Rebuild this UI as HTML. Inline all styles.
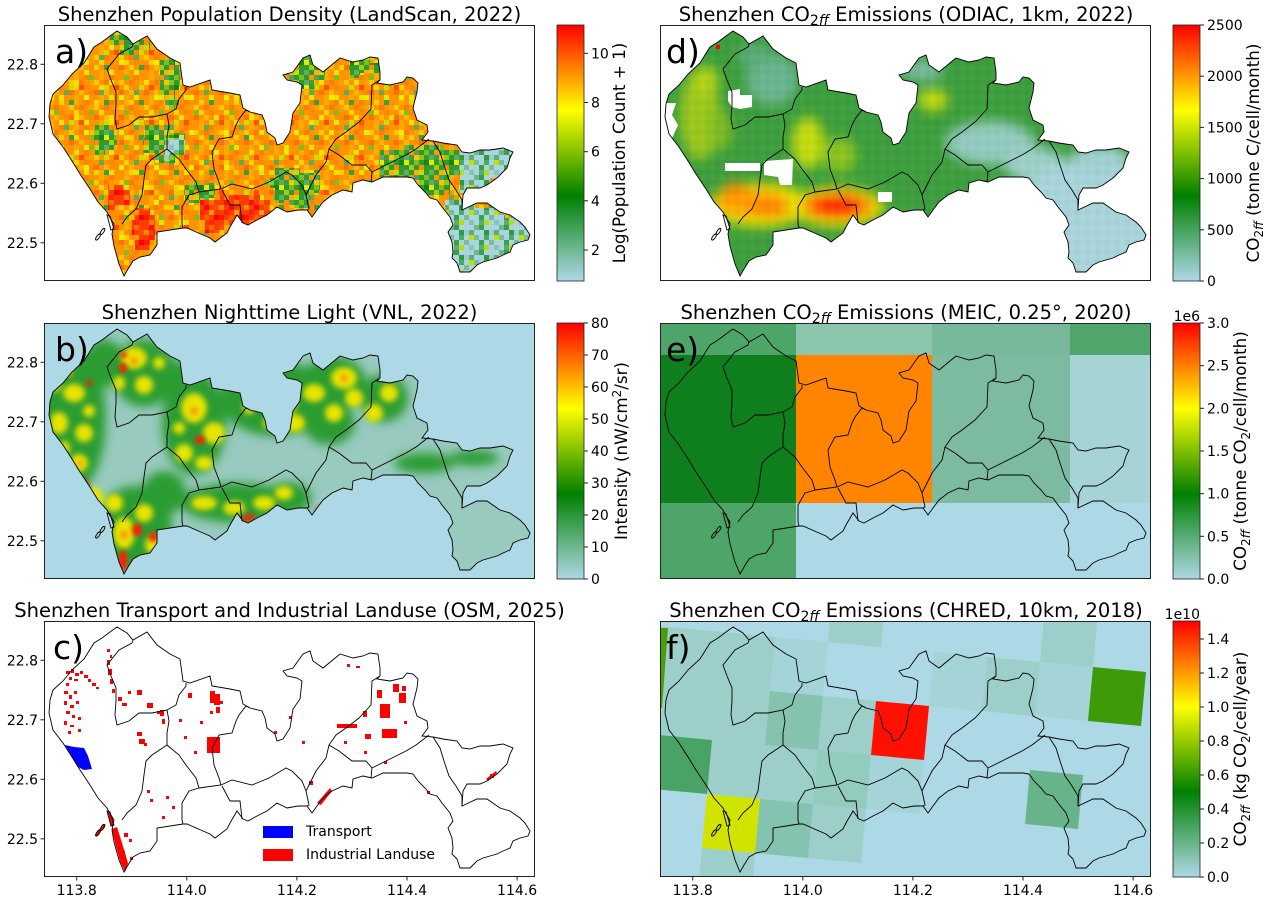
<!DOCTYPE html>
<html><head><meta charset="utf-8"><style>html,body{margin:0;padding:0;background:#fff;}svg{display:block;}</style></head><body>
<svg xmlns="http://www.w3.org/2000/svg" width="1269" height="903" viewBox="0 0 1269 903" font-family="DejaVu Sans, Liberation Sans, sans-serif">
<defs>
<path id="sz" d="M73,6 L83,12 L89,19 L103,11 L113,24 L126,33 L136,38 L139,60 L146,62 L166,55 L168,65 L186,68 L196,70 L199,83 L206,87 L218,90 L221,97 L223,107 L231,113 L233,120 L239,118 L246,107 L249,88 L256,78 L258,60 L253,57 L243,55 L239,50 L249,47 L259,33 L266,30 L269,40 L279,47 L296,33 L309,37 L319,35 L326,32 L334,33 L336,47 L336,55 L333,58 L346,60 L359,57 L363,52 L369,53 L374,58 L373,67 L369,83 L373,95 L383,100 L384,107 L378,115 L389,116 L399,118 L413,120 L418,127 L426,128 L436,125 L446,125 L459,123 L469,127 L466,133 L463,143 L453,153 L443,160 L436,163 L423,163 L419,170 L418,185 L433,178 L443,178 L456,187 L466,190 L476,197 L481,202 L486,210 L484,215 L476,217 L469,220 L466,227 L459,230 L453,233 L439,237 L433,240 L426,247 L416,247 L413,238 L408,233 L409,227 L408,217 L404,207 L409,200 L406,192 L398,182 L393,175 L386,173 L381,167 L374,160 L369,153 L363,152 L354,152 L339,152 L328,157 L319,155 L309,158 L308,167 L299,165 L288,170 L279,177 L273,185 L268,192 L263,185 L254,185 L243,187 L233,182 L223,190 L213,195 L204,200 L199,198 L193,190 L186,202 L183,208 L171,217 L166,213 L159,210 L143,203 L139,203 L113,207 L113,220 L106,230 L96,232 L89,236 L84,244 L80,251 L75,239 L70,221 L68,209 L70,199 L65,191 L63,187 L54,177 L46,164 L36,149 L28,136 L19,122 L9,109 L5,92 L6,79 L9,69 L19,60 L28,49 L40,38 L50,22 L58,17 L66,11 Z"/>
<path id="ib" d="M89,19 L88,22 L75,29 L63,44 L67,55 L72,67 L72,80 L71,94 L73,104 L85,100 L95,92 L108,92 L123,89 L132,84 L135,74 L142,65 L142,62 M123,89 L125,100 L123,112 L123,124 L108,134 L102,140 L100,154 L98,170 L92,184 L83,192 L78,199 M123,124 L135,134 L142,144 L152,157 L155,167 L145,170 L138,182 L138,199 L139,203 M155,167 L177,164 L188,159 L208,164 L225,157 L242,147 L248,150 L258,160 L262,170 L265,184 L263,185 M178,165 L186,180 L196,180 L198,198 M170,144 L168,127 L175,114 L188,112 L192,100 L195,94 L202,85 L206,87 M170,144 L175,157 L177,164 M336,55 L328,60 L327,84 L315,97 L302,107 L292,114 L285,124 L282,137 L272,150 L262,170 M285,124 L295,130 L308,140 L322,140 L328,147 L342,140 L362,130 L372,124 L385,114 M328,147 L327,157 M389,116 L396,127 L400,140 L405,155 L412,165 L418,175 L418,185"/>
<g id="isl"><ellipse cx="54" cy="212" rx="3.6" ry="1.4" transform="rotate(-55 54 212)"/><ellipse cx="58.5" cy="206.5" rx="3.6" ry="1.4" transform="rotate(-55 58.5 206.5)"/><polygon points="63,190 66,191 70,204 67,205"/></g>
<clipPath id="csz"><use href="#sz"/></clipPath>
<linearGradient id="cm" x1="0" y1="1" x2="0" y2="0">
<stop offset="0" stop-color="#add8e6"/><stop offset="0.3333" stop-color="#008000"/><stop offset="0.6667" stop-color="#ffff00"/><stop offset="1" stop-color="#ff0000"/>
</linearGradient>
<filter id="bl6" x="-30%" y="-30%" width="160%" height="160%"><feGaussianBlur stdDeviation="6"/></filter>
<filter id="bl5" x="-30%" y="-30%" width="160%" height="160%"><feGaussianBlur stdDeviation="5"/></filter>
<filter id="bl3" x="-30%" y="-30%" width="160%" height="160%"><feGaussianBlur stdDeviation="3"/></filter>
<filter id="bl2" x="-30%" y="-30%" width="160%" height="160%"><feGaussianBlur stdDeviation="2"/></filter>
<pattern id="pO" width="25" height="25" patternUnits="userSpaceOnUse">
<rect width="25" height="25" fill="#ff9400"/>
<rect x="5" y="0" width="5" height="5" fill="#ffac00"/><rect x="15" y="0" width="5" height="5" fill="#ff8000"/>
<rect x="0" y="5" width="5" height="5" fill="#ffc800"/><rect x="10" y="5" width="5" height="5" fill="#ff7c00"/><rect x="20" y="5" width="5" height="5" fill="#ffa000"/>
<rect x="5" y="10" width="5" height="5" fill="#ffd400"/><rect x="15" y="10" width="5" height="5" fill="#ff8800"/>
<rect x="0" y="15" width="5" height="5" fill="#ff7000"/><rect x="10" y="15" width="5" height="5" fill="#ffb800"/><rect x="20" y="15" width="5" height="5" fill="#ff8c00"/>
<rect x="5" y="20" width="5" height="5" fill="#ffa800"/><rect x="15" y="20" width="5" height="5" fill="#e8e600"/>
</pattern>
<pattern id="pS" width="35" height="35" patternUnits="userSpaceOnUse">
<rect x="5" y="0" width="5" height="5" fill="#f0ee00"/><rect x="25" y="5" width="5" height="5" fill="#3aa03a"/><rect x="10" y="15" width="5" height="5" fill="#7cc020"/><rect x="30" y="20" width="5" height="5" fill="#ffe000"/><rect x="0" y="25" width="5" height="5" fill="#ff5000"/><rect x="20" y="30" width="5" height="5" fill="#58ae50"/><rect x="15" y="5" width="5" height="5" fill="#ffd000"/><rect x="25" y="25" width="5" height="5" fill="#c8e000"/>
</pattern>
<pattern id="pG" width="25" height="25" patternUnits="userSpaceOnUse">
<rect width="25" height="25" fill="#2f9a2f"/>
<rect x="5" y="0" width="5" height="5" fill="#7cc01c"/><rect x="15" y="0" width="5" height="5" fill="#ff9800"/><rect x="20" y="0" width="5" height="5" fill="#4ca35a"/>
<rect x="0" y="5" width="5" height="5" fill="#90c818"/><rect x="10" y="5" width="5" height="5" fill="#5aac6c"/><rect x="15" y="5" width="5" height="5" fill="#3c9e3c"/><rect x="20" y="5" width="5" height="5" fill="#ffc400"/>
<rect x="5" y="10" width="5" height="5" fill="#0e880e"/><rect x="10" y="10" width="5" height="5" fill="#e8e800"/><rect x="20" y="10" width="5" height="5" fill="#7cc01c"/>
<rect x="0" y="15" width="5" height="5" fill="#ff8c00"/><rect x="15" y="15" width="5" height="5" fill="#a4cc14"/>
<rect x="0" y="20" width="5" height="5" fill="#c0dc0c"/><rect x="10" y="20" width="5" height="5" fill="#60b060"/><rect x="20" y="20" width="5" height="5" fill="#ffb000"/>
</pattern>
<pattern id="pB" width="25" height="25" patternUnits="userSpaceOnUse">
<rect width="25" height="25" fill="#a8d5df"/>
<rect x="5" y="0" width="5" height="5" fill="#6cb690"/><rect x="10" y="0" width="5" height="5" fill="#3c9e48"/>
<rect x="0" y="5" width="5" height="5" fill="#5aae7a"/><rect x="15" y="5" width="5" height="5" fill="#2e9a3a"/><rect x="20" y="5" width="5" height="5" fill="#9acccc"/>
<rect x="0" y="10" width="5" height="5" fill="#c0e000"/><rect x="5" y="10" width="5" height="5" fill="#7cbc9c"/><rect x="15" y="10" width="5" height="5" fill="#4ea868"/>
<rect x="10" y="15" width="5" height="5" fill="#3ca048"/><rect x="20" y="15" width="5" height="5" fill="#7abc98"/>
<rect x="0" y="20" width="5" height="5" fill="#88c4b0"/><rect x="10" y="20" width="5" height="5" fill="#58ae70"/><rect x="15" y="20" width="5" height="5" fill="#b8dc10"/>
</pattern>
<pattern id="pR" width="25" height="25" patternUnits="userSpaceOnUse">
<rect width="25" height="25" fill="#ff3c00"/>
<rect x="5" y="0" width="5" height="5" fill="#ff1000"/><rect x="15" y="0" width="5" height="5" fill="#ff7000"/>
<rect x="0" y="5" width="5" height="5" fill="#ff8c00"/><rect x="10" y="5" width="5" height="5" fill="#ff0800"/><rect x="20" y="5" width="5" height="5" fill="#ff5000"/>
<rect x="5" y="10" width="5" height="5" fill="#ff2000"/><rect x="15" y="10" width="5" height="5" fill="#ffa000"/>
<rect x="0" y="15" width="5" height="5" fill="#ff1800"/><rect x="10" y="15" width="5" height="5" fill="#ff6000"/><rect x="20" y="15" width="5" height="5" fill="#ff0000"/>
<rect x="5" y="20" width="5" height="5" fill="#ff8000"/><rect x="15" y="20" width="5" height="5" fill="#ff2800"/>
</pattern>
<pattern id="pX" width="10" height="10" patternUnits="userSpaceOnUse">
<rect x="0" y="0" width="5" height="5" fill="#fff" fill-opacity="0.035"/><rect x="5" y="5" width="5" height="5" fill="#000" fill-opacity="0.025"/>
</pattern>
</defs>
<rect width="1269" height="903" fill="#fff"/>

<!-- ===== Panel a ===== -->
<g transform="translate(44,25)">
<g clip-path="url(#csz)">
<rect width="491" height="256" fill="url(#pO)"/>
<rect width="491" height="256" fill="url(#pS)"/>
<g fill="url(#pG)">
<polygon points="66,5 81,5 81,10 96,10 96,15 106,15 106,25 91,25 91,30 76,30 76,20 66,20"/>
<polygon points="116,35 131,35 131,45 136,45 136,65 131,65 131,85 121,85 121,70 116,70"/>
<polygon points="51,100 66,100 66,105 73,105 73,125 61,125 61,130 51,130 51,115 46,115 46,105 51,105"/>
<polygon points="101,100 126,100 126,108 141,108 141,130 131,130 131,138 111,138 111,128 99,128 99,113 101,113"/>
<polygon points="141,160 161,160 161,158 171,158 171,173 156,173 156,178 141,178"/>
<polygon points="231,143 256,143 256,148 276,148 276,168 266,168 266,183 246,183 246,178 231,178 231,163 226,163 226,153 231,153"/>
<polygon points="246,30 266,30 266,35 281,35 281,55 271,55 271,64 251,64 251,55 238,55 238,40 246,40"/>
<polygon points="306,32 326,32 326,38 336,38 336,48 316,48 316,53 306,53"/>
<polygon points="336,125 361,125 361,120 396,120 396,125 416,125 416,150 406,150 406,170 381,170 381,178 356,178 356,165 336,165"/>
</g>
<g fill="url(#pB)">
<polygon points="416,118 471,118 471,133 466,133 466,153 446,153 446,163 421,163 421,168 416,168"/>
<polygon points="401,175 431,175 431,183 461,183 461,193 491,193 491,256 401,256"/>
<polygon points="121,113 141,113 141,128 126,128 126,136 121,136"/>
</g>
<g fill="url(#pR)">
<polygon points="156,175 176,175 176,170 216,170 216,175 226,175 226,195 216,195 216,205 196,205 196,200 176,200 176,208 161,208 161,195 156,195"/>
<polygon points="91,183 106,183 106,190 111,190 111,215 106,215 106,225 91,225 91,210 88,210 88,195 91,195"/>
<polygon points="64,160 79,160 79,165 86,165 86,180 71,180 71,185 64,185"/>
</g>
</g>
<g fill="none" stroke="#000" stroke-width="0.9"><use href="#sz"/><use href="#ib"/><use href="#isl"/></g>
<rect x="0.5" y="0.5" width="490" height="255" fill="none" stroke="#222" stroke-width="1"/>
<text x="11" y="38" font-size="33">a)</text>
</g>

<!-- ===== Panel b ===== -->
<g transform="translate(44,323)">
<rect width="491" height="256" fill="#add8e6"/>
<g clip-path="url(#csz)">
<rect width="491" height="256" fill="#98cabf"/>
<g filter="url(#bl5)" fill="#2c9c32">
<ellipse cx="28" cy="95" rx="34" ry="75"/><ellipse cx="60" cy="40" rx="20" ry="24"/><ellipse cx="100" cy="50" rx="32" ry="34"/>
<ellipse cx="150" cy="100" rx="32" ry="52"/><ellipse cx="135" cy="60" rx="16" ry="22"/><ellipse cx="230" cy="75" rx="54" ry="38"/>
<ellipse cx="290" cy="60" rx="32" ry="27"/><ellipse cx="285" cy="100" rx="26" ry="22"/><ellipse cx="340" cy="75" rx="24" ry="24"/>
<ellipse cx="90" cy="205" rx="38" ry="42"/><ellipse cx="195" cy="180" rx="58" ry="20"/><ellipse cx="245" cy="175" rx="22" ry="16"/>
<ellipse cx="120" cy="170" rx="22" ry="22"/><ellipse cx="380" cy="140" rx="30" ry="10"/><ellipse cx="430" cy="135" rx="25" ry="8"/>
</g>
<g filter="url(#bl3)" fill="#e8e400">
<ellipse cx="20" cy="40" rx="9" ry="11"/><ellipse cx="30" cy="70" rx="11" ry="9"/><ellipse cx="15" cy="100" rx="9" ry="11"/><ellipse cx="40" cy="110" rx="9" ry="9"/><ellipse cx="35" cy="140" rx="9" ry="9"/><ellipse cx="50" cy="175" rx="9" ry="11"/><ellipse cx="10" cy="60" rx="7" ry="9"/><ellipse cx="45" cy="88" rx="6" ry="6"/><ellipse cx="20" cy="125" rx="6" ry="7"/>
<ellipse cx="90" cy="35" rx="13" ry="11"/><ellipse cx="100" cy="62" rx="9" ry="9"/><ellipse cx="75" cy="60" rx="6" ry="7"/><ellipse cx="115" cy="40" rx="6" ry="6"/>
<ellipse cx="150" cy="85" rx="13" ry="15"/><ellipse cx="170" cy="110" rx="11" ry="11"/><ellipse cx="140" cy="130" rx="9" ry="9"/><ellipse cx="160" cy="140" rx="9" ry="7"/><ellipse cx="135" cy="105" rx="6" ry="6"/>
<ellipse cx="210" cy="60" rx="11" ry="11"/><ellipse cx="240" cy="80" rx="13" ry="11"/><ellipse cx="270" cy="70" rx="11" ry="9"/><ellipse cx="250" cy="100" rx="11" ry="9"/><ellipse cx="300" cy="55" rx="13" ry="11"/><ellipse cx="290" cy="90" rx="9" ry="9"/><ellipse cx="225" cy="100" rx="6" ry="6"/><ellipse cx="205" cy="85" rx="6" ry="6"/>
<ellipse cx="80" cy="210" rx="11" ry="16"/><ellipse cx="100" cy="190" rx="9" ry="9"/><ellipse cx="70" cy="180" rx="9" ry="9"/><ellipse cx="110" cy="222" rx="9" ry="9"/>
<ellipse cx="160" cy="180" rx="13" ry="7"/><ellipse cx="190" cy="185" rx="11" ry="7"/><ellipse cx="220" cy="180" rx="11" ry="7"/><ellipse cx="240" cy="170" rx="9" ry="7"/>
<ellipse cx="310" cy="75" rx="9" ry="9"/><ellipse cx="330" cy="90" rx="9" ry="9"/><ellipse cx="345" cy="70" rx="9" ry="9"/>
</g>
<g filter="url(#bl2)" fill="#ff9c00">
<ellipse cx="25" cy="50" rx="4" ry="4"/><ellipse cx="90" cy="38" rx="4" ry="4"/><ellipse cx="150" cy="88" rx="4" ry="4"/><ellipse cx="240" cy="80" rx="4" ry="4"/><ellipse cx="300" cy="55" rx="4" ry="4"/><ellipse cx="80" cy="212" rx="4" ry="5"/><ellipse cx="36" cy="140" rx="3" ry="3"/>
</g>
<g filter="url(#bl2)" fill="#ff1a00">
<ellipse cx="33" cy="164" rx="12" ry="10"/><ellipse cx="28" cy="158" rx="10" ry="8"/>
<ellipse cx="79" cy="45" rx="4" ry="5"/><ellipse cx="156" cy="117" rx="5" ry="4"/><ellipse cx="63" cy="197" rx="4" ry="6"/><ellipse cx="93" cy="207" rx="5" ry="6"/><ellipse cx="109" cy="214" rx="4" ry="5"/><ellipse cx="79" cy="238" rx="4" ry="11"/><ellipse cx="206" cy="194" rx="5" ry="3"/><ellipse cx="276" cy="187" rx="4" ry="3"/><ellipse cx="201" cy="197" rx="4" ry="3"/><ellipse cx="80" cy="32" rx="3" ry="3"/><ellipse cx="45" cy="60" rx="3" ry="3"/>
</g>
</g>
<g fill="none" stroke="#000" stroke-width="0.9"><use href="#sz"/><use href="#ib"/><use href="#isl"/></g>
<rect x="0.5" y="0.5" width="490" height="255" fill="none" stroke="#222" stroke-width="1"/>
<text x="11" y="38" font-size="33">b)</text>
</g>

<!-- ===== Panel c ===== -->
<g transform="translate(44,621)">
<rect width="491" height="256" fill="#fff"/>
<g fill="#ff0000">
<rect x="22" y="50" width="4" height="3"/><rect x="27" y="48" width="3" height="4"/><rect x="31" y="52" width="4" height="3"/><rect x="36" y="50" width="3" height="3"/><rect x="40" y="54" width="4" height="3"/><rect x="25" y="56" width="3" height="3"/><rect x="30" y="58" width="4" height="2"/><rect x="44" y="58" width="3" height="3"/><rect x="48" y="62" width="4" height="3"/><rect x="52" y="66" width="3" height="2"/><rect x="22" y="62" width="3" height="3"/>
<rect x="20" y="70" width="4" height="3"/><rect x="25" y="74" width="3" height="4"/><rect x="30" y="70" width="3" height="3"/><rect x="20" y="80" width="3" height="4"/><rect x="26" y="84" width="4" height="3"/><rect x="32" y="80" width="3" height="3"/><rect x="22" y="90" width="4" height="3"/><rect x="28" y="94" width="3" height="3"/><rect x="20" y="100" width="3" height="4"/><rect x="26" y="104" width="4" height="2"/><rect x="34" y="96" width="3" height="3"/><rect x="24" y="110" width="3" height="3"/><rect x="34" y="108" width="3" height="3"/>
<rect x="63" y="39" width="3" height="5"/><rect x="64" y="48" width="4" height="6"/><rect x="66" y="58" width="3" height="5"/><rect x="68" y="68" width="3" height="4"/><rect x="63" y="28" width="3" height="3"/><rect x="66" y="34" width="2" height="3"/>
<rect x="93" y="111" width="5" height="4"/><rect x="95" y="118" width="6" height="5"/><rect x="100" y="122" width="3" height="3"/><rect x="103" y="82" width="6" height="5"/><rect x="93" y="69" width="5" height="5"/><rect x="74" y="76" width="4" height="4"/><rect x="78" y="82" width="5" height="3"/><rect x="84" y="70" width="3" height="3"/>
<rect x="163" y="116" width="13" height="16"/><rect x="166" y="70" width="5" height="6"/><rect x="170" y="76" width="6" height="8"/><rect x="172" y="86" width="4" height="6"/><rect x="166" y="90" width="3" height="3"/><rect x="176" y="80" width="3" height="3"/>
<rect x="144" y="72" width="4" height="5"/><rect x="116" y="89" width="4" height="6"/><rect x="118" y="98" width="3" height="5"/><rect x="113" y="90" width="3" height="3"/>
<rect x="135" y="98" width="3" height="3"/><rect x="140" y="115" width="3" height="3"/><rect x="150" y="130" width="3" height="3"/><rect x="156" y="100" width="3" height="3"/>
<polygon points="68,208 73,206 78,222 84,242 81,251 76,240 71,222"/>
<rect x="80" y="212" width="4" height="4"/><rect x="85" y="218" width="3" height="3"/><rect x="78" y="230" width="3" height="3"/><rect x="86" y="236" width="3" height="3"/>
<use href="#isl"/>
<rect x="103" y="169" width="3" height="3"/><rect x="106" y="178" width="3" height="3"/><rect x="122" y="175" width="3" height="3"/><rect x="128" y="185" width="3" height="3"/><rect x="118" y="195" width="3" height="3"/>
<rect x="336" y="83" width="10" height="14"/><rect x="338" y="108" width="15" height="9"/><rect x="349" y="63" width="6" height="8"/><rect x="355" y="72" width="7" height="10"/><rect x="358" y="65" width="4" height="5"/>
<rect x="293" y="103" width="20" height="4"/><polygon points="273,182 286,167 288,170 277,184"/>
<rect x="446" y="153" width="4" height="4"/><polygon points="442,158 452,150 453,152 444,160"/><rect x="383" y="170" width="3" height="3"/><rect x="303" y="43" width="3" height="3"/><rect x="312" y="45" width="4" height="2"/><rect x="319" y="90" width="4" height="6"/><rect x="321" y="113" width="6" height="5"/><rect x="166" y="73" width="10" height="9"/>
<rect x="230" y="110" width="3" height="3"/><rect x="245" y="95" width="3" height="3"/><rect x="258" y="120" width="3" height="3"/><rect x="300" y="120" width="3" height="3"/><rect x="320" y="130" width="3" height="3"/><rect x="360" y="100" width="3" height="3"/><rect x="333" y="69" width="5" height="8"/><rect x="340" y="140" width="3" height="3"/><rect x="265" y="160" width="4" height="4"/>
</g>
<polygon points="21,124 30,126 40,127 44,135 48,148 40,149 34,146 28,136" fill="#0000ff"/>
<g fill="none" stroke="#000" stroke-width="0.9"><use href="#sz"/><use href="#ib"/><use href="#isl"/></g>
<rect x="219" y="205" width="30" height="12" fill="#0000ff"/>
<rect x="219" y="228" width="30" height="12" fill="#ff0000"/>
<text x="262" y="215" font-size="14">Transport</text>
<text x="262" y="238" font-size="14">Industrial Landuse</text>
<rect x="0.5" y="0.5" width="490" height="255" fill="none" stroke="#222" stroke-width="1"/>
<text x="9" y="38" font-size="33">c)</text>
</g>

<!-- ===== Panel d ===== -->
<g transform="translate(660,25)">
<rect width="491" height="256" fill="#fff"/>
<g clip-path="url(#csz)">
<rect width="491" height="256" fill="#3c9e3c"/>
<g filter="url(#bl6)">
<ellipse cx="112" cy="55" rx="26" ry="26" fill="#6ab48e"/>
<ellipse cx="95" cy="30" rx="18" ry="12" fill="#5aac7a"/>
<ellipse cx="40" cy="90" rx="20" ry="45" fill="#9cc81a"/>
<ellipse cx="45" cy="55" rx="14" ry="14" fill="#b4d412"/>
<ellipse cx="60" cy="105" rx="12" ry="20" fill="#7cbc20"/>
<ellipse cx="148" cy="118" rx="16" ry="26" fill="#c4dc10"/>
<ellipse cx="180" cy="130" rx="16" ry="18" fill="#8cc41a"/>
<ellipse cx="273" cy="75" rx="15" ry="11" fill="#c4dc10"/>
<ellipse cx="262" cy="45" rx="22" ry="10" fill="#7cbca4"/>
<ellipse cx="330" cy="118" rx="45" ry="22" fill="#92cabe"/>
<ellipse cx="375" cy="140" rx="30" ry="18" fill="#9ccfc8"/>
<ellipse cx="430" cy="195" rx="75" ry="62" fill="#a8d4da"/>
<ellipse cx="440" cy="135" rx="30" ry="15" fill="#a0d0d0"/>
<ellipse cx="100" cy="180" rx="50" ry="22" fill="#e8e400"/>
<ellipse cx="92" cy="178" rx="36" ry="14" fill="#ffa000"/>
<ellipse cx="75" cy="166" rx="14" ry="8" fill="#ff9000"/>
<ellipse cx="110" cy="184" rx="20" ry="8" fill="#ff7800"/>
<ellipse cx="178" cy="182" rx="46" ry="20" fill="#e8e400"/>
<ellipse cx="178" cy="181" rx="36" ry="14" fill="#ff8800"/>
<ellipse cx="176" cy="181" rx="26" ry="10" fill="#ff1000"/>
</g>
<rect width="491" height="256" fill="url(#pX)"/>
<g fill="#fff">
<polygon points="68,66 80,64 80,70 92,70 92,82 80,84 72,82 68,76"/>
<polygon points="65,138 100,138 100,146 65,146"/>
<polygon points="104,136 133,134 132,160 120,160 118,152 104,150"/>
<polygon points="0,78 16,78 12,90 18,100 10,118 0,118"/>
<rect x="218" y="167" width="14" height="10"/>
</g>
<rect x="56" y="20" width="4" height="4" fill="#ff0000"/>
<rect x="69" y="229" width="4" height="4" fill="#ff0000"/>
</g>
<g fill="none" stroke="#000" stroke-width="0.9"><use href="#sz"/><use href="#ib"/><use href="#isl"/></g>
<rect x="0.5" y="0.5" width="490" height="255" fill="none" stroke="#222" stroke-width="1"/>
<text x="6" y="38" font-size="33">d)</text>
</g>

<!-- ===== Panel e ===== -->
<g transform="translate(660,323)">
<rect x="0" y="0" width="136" height="32" fill="#4ea56a"/>
<rect x="136" y="0" width="136" height="32" fill="#8cc6ad"/>
<rect x="272" y="0" width="138" height="32" fill="#78b99b"/>
<rect x="410" y="0" width="81" height="32" fill="#4fa56b"/>
<rect x="0" y="32" width="136" height="148" fill="#0e7f1c"/>
<rect x="136" y="32" width="136" height="148" fill="#ff8400"/>
<rect x="272" y="32" width="138" height="148" fill="#7cbba0"/>
<rect x="410" y="32" width="81" height="148" fill="#a6d3d6"/>
<rect x="0" y="180" width="136" height="76" fill="#4ea56a"/>
<rect x="136" y="180" width="355" height="76" fill="#add8e6"/>
<g fill="none" stroke="#000" stroke-width="0.9"><use href="#sz"/><use href="#ib"/><use href="#isl"/></g>
<rect x="0.5" y="0.5" width="490" height="255" fill="none" stroke="#222" stroke-width="1"/>
<text x="6" y="38" font-size="33">e)</text>
</g>

<!-- ===== Panel f ===== -->
<g transform="translate(660,621)">
<svg x="0" y="0" width="491" height="256" overflow="hidden">
<rect width="491" height="256" fill="#add8e6"/>
<g fill="#9ccfc9">
<polygon points="163,75 216,80 211,134 158,129"/>
<polygon points="57,65 110,70 105,124 52,119"/>
<polygon points="4,60 57,65 52,119 -1,114"/>
<polygon points="52,119 105,124 100,178 47,173"/>
<polygon points="105,124 158,129 153,183 100,178"/>
<polygon points="153,183 206,188 201,242 148,237"/>
<polygon points="42,227 95,232 90,286 37,281"/>
<polygon points="9,6 62,11 57,65 4,60"/>
<polygon points="62,11 115,16 110,70 57,65"/>
<polygon points="173,-33 226,-28 221,26 168,21"/>
<polygon points="327,36 380,41 375,95 322,90"/>
<polygon points="385,-13 438,-8 433,46 380,41"/>
<polygon points="-44,1 9,6 4,60 -49,55"/>
</g>
<g fill="#a4d4d8">
<polygon points="211,134 264,139 259,193 206,188"/>
<polygon points="115,16 168,21 163,75 110,70"/>
<polygon points="274,31 327,36 322,90 269,85"/>
<polygon points="380,41 433,46 428,100 375,95"/>
</g>
<polygon points="158,129 211,134 206,188 153,183" fill="#93cbbe"/>
<polygon points="110,70 163,75 158,129 105,124" fill="#86c3af"/>
<polygon points="100,178 153,183 148,237 95,232" fill="#84c3b0"/>
<polygon points="216,80 269,85 264,139 211,134" fill="#ff1000"/>
<polygon points="47,173 100,178 95,232 42,227" fill="#d0e400"/>
<polygon points="433,46 486,51 481,105 428,100" fill="#3f9a0a"/>
<polygon points="370,149 423,154 418,208 365,203" fill="#68b48a"/>
<polygon points="-1,114 52,119 47,173 -6,168" fill="#4aa366"/>
<polygon points="0,7 8,7 2,87 0,87" fill="#4a9e0a"/>
<g fill="none" stroke="#000" stroke-width="0.9"><use href="#sz"/><use href="#ib"/><use href="#isl"/></g>
</svg>
<rect x="0.5" y="0.5" width="490" height="255" fill="none" stroke="#222" stroke-width="1"/>
<text x="6" y="38" font-size="33">f)</text>
</g>

<!-- ===== Titles ===== -->
<g font-size="19.5" text-anchor="middle" fill="#000">
<text x="289.5" y="21">Shenzhen Population Density (LandScan, 2022)</text>
<text x="289.5" y="319">Shenzhen Nighttime Light (VNL, 2022)</text>
<text x="289.5" y="617">Shenzhen Transport and Industrial Landuse (OSM, 2025)</text>
<text x="906" y="21">Shenzhen CO<tspan dy="4" font-size="14">2</tspan><tspan font-size="14" font-style="italic">ff</tspan><tspan dy="-4"> Emissions (ODIAC, 1km, 2022)</tspan></text>
<text x="906" y="319">Shenzhen CO<tspan dy="4" font-size="14">2</tspan><tspan font-size="14" font-style="italic">ff</tspan><tspan dy="-4"> Emissions (MEIC, 0.25°, 2020)</tspan></text>
<text x="906" y="617">Shenzhen CO<tspan dy="4" font-size="14">2</tspan><tspan font-size="14" font-style="italic">ff</tspan><tspan dy="-4"> Emissions (CHRED, 10km, 2018)</tspan></text>
</g>

<!-- ===== Ticks ===== -->
<g stroke="#222" stroke-width="1">
<line x1="40.5" y1="64.3" x2="44" y2="64.3"/><line x1="40.5" y1="123.8" x2="44" y2="123.8"/><line x1="40.5" y1="183.3" x2="44" y2="183.3"/><line x1="40.5" y1="242.8" x2="44" y2="242.8"/>
<line x1="40.5" y1="362.3" x2="44" y2="362.3"/><line x1="40.5" y1="421.8" x2="44" y2="421.8"/><line x1="40.5" y1="481.3" x2="44" y2="481.3"/><line x1="40.5" y1="540.8" x2="44" y2="540.8"/>
<line x1="40.5" y1="660.3" x2="44" y2="660.3"/><line x1="40.5" y1="719.8" x2="44" y2="719.8"/><line x1="40.5" y1="779.3" x2="44" y2="779.3"/><line x1="40.5" y1="838.8" x2="44" y2="838.8"/>
<line x1="76.7" y1="877" x2="76.7" y2="880.5"/><line x1="186.8" y1="877" x2="186.8" y2="880.5"/><line x1="296.9" y1="877" x2="296.9" y2="880.5"/><line x1="407" y1="877" x2="407" y2="880.5"/><line x1="517.1" y1="877" x2="517.1" y2="880.5"/>
<line x1="692.7" y1="877" x2="692.7" y2="880.5"/><line x1="802.8" y1="877" x2="802.8" y2="880.5"/><line x1="912.9" y1="877" x2="912.9" y2="880.5"/><line x1="1023" y1="877" x2="1023" y2="880.5"/><line x1="1133.1" y1="877" x2="1133.1" y2="880.5"/>
</g>
<g font-size="14" text-anchor="end" fill="#000">
<text x="38" y="69.3">22.8</text><text x="38" y="128.8">22.7</text><text x="38" y="188.3">22.6</text><text x="38" y="247.8">22.5</text>
<text x="38" y="367.3">22.8</text><text x="38" y="426.8">22.7</text><text x="38" y="486.3">22.6</text><text x="38" y="545.8">22.5</text>
<text x="38" y="665.3">22.8</text><text x="38" y="724.8">22.7</text><text x="38" y="784.3">22.6</text><text x="38" y="843.8">22.5</text>
</g>
<g font-size="14" text-anchor="middle" fill="#000">
<text x="76.7" y="895">113.8</text><text x="186.8" y="895">114.0</text><text x="296.9" y="895">114.2</text><text x="407" y="895">114.4</text><text x="517.1" y="895">114.6</text>
<text x="692.7" y="895">113.8</text><text x="802.8" y="895">114.0</text><text x="912.9" y="895">114.2</text><text x="1023" y="895">114.4</text><text x="1133.1" y="895">114.6</text>
</g>

<!-- ===== Colorbars ===== -->
<g stroke="#222" stroke-width="0.8">
<rect x="557" y="25" width="27" height="256" fill="url(#cm)"/>
<rect x="557" y="323" width="27" height="256" fill="url(#cm)"/>
<rect x="1173" y="25" width="27" height="256" fill="url(#cm)"/>
<rect x="1173" y="323" width="27" height="256" fill="url(#cm)"/>
<rect x="1173" y="621" width="27" height="256" fill="url(#cm)"/>
</g>
<g stroke="#222" stroke-width="1">
<line x1="584" y1="250" x2="588" y2="250"/><line x1="584" y1="200.8" x2="588" y2="200.8"/><line x1="584" y1="151.7" x2="588" y2="151.7"/><line x1="584" y1="102.5" x2="588" y2="102.5"/><line x1="584" y1="53.3" x2="588" y2="53.3"/>
<line x1="584" y1="579" x2="588" y2="579"/><line x1="584" y1="547" x2="588" y2="547"/><line x1="584" y1="515" x2="588" y2="515"/><line x1="584" y1="483" x2="588" y2="483"/><line x1="584" y1="451" x2="588" y2="451"/><line x1="584" y1="419" x2="588" y2="419"/><line x1="584" y1="387" x2="588" y2="387"/><line x1="584" y1="355" x2="588" y2="355"/><line x1="584" y1="323" x2="588" y2="323"/>
<line x1="1200" y1="281" x2="1204" y2="281"/><line x1="1200" y1="229.8" x2="1204" y2="229.8"/><line x1="1200" y1="178.6" x2="1204" y2="178.6"/><line x1="1200" y1="127.4" x2="1204" y2="127.4"/><line x1="1200" y1="76.2" x2="1204" y2="76.2"/><line x1="1200" y1="25" x2="1204" y2="25"/>
<line x1="1200" y1="579" x2="1204" y2="579"/><line x1="1200" y1="536.3" x2="1204" y2="536.3"/><line x1="1200" y1="493.7" x2="1204" y2="493.7"/><line x1="1200" y1="451" x2="1204" y2="451"/><line x1="1200" y1="408.3" x2="1204" y2="408.3"/><line x1="1200" y1="365.7" x2="1204" y2="365.7"/><line x1="1200" y1="323" x2="1204" y2="323"/>
<line x1="1200" y1="877" x2="1204" y2="877"/><line x1="1200" y1="843" x2="1204" y2="843"/><line x1="1200" y1="809" x2="1204" y2="809"/><line x1="1200" y1="775" x2="1204" y2="775"/><line x1="1200" y1="741" x2="1204" y2="741"/><line x1="1200" y1="707" x2="1204" y2="707"/><line x1="1200" y1="673" x2="1204" y2="673"/><line x1="1200" y1="639" x2="1204" y2="639"/>
</g>
<g font-size="14" fill="#000">
<text x="591" y="255">2</text><text x="591" y="205.8">4</text><text x="591" y="156.7">6</text><text x="591" y="107.5">8</text><text x="591" y="58.3">10</text>
<text x="591" y="584">0</text><text x="591" y="552">10</text><text x="591" y="520">20</text><text x="591" y="488">30</text><text x="591" y="456">40</text><text x="591" y="424">50</text><text x="591" y="392">60</text><text x="591" y="360">70</text><text x="591" y="328">80</text>
<text x="1207" y="286">0</text><text x="1207" y="234.8">500</text><text x="1207" y="183.6">1000</text><text x="1207" y="132.4">1500</text><text x="1207" y="81.2">2000</text><text x="1207" y="30">2500</text>
<text x="1207" y="584">0.0</text><text x="1207" y="541.3">0.5</text><text x="1207" y="498.7">1.0</text><text x="1207" y="456">1.5</text><text x="1207" y="413.3">2.0</text><text x="1207" y="370.7">2.5</text><text x="1207" y="328">3.0</text>
<text x="1207" y="882">0.0</text><text x="1207" y="848">0.2</text><text x="1207" y="814">0.4</text><text x="1207" y="780">0.6</text><text x="1207" y="746">0.8</text><text x="1207" y="712">1.0</text><text x="1207" y="678">1.2</text><text x="1207" y="644">1.4</text>
<text x="1200" y="321" text-anchor="end">1e6</text>
<text x="1200" y="619" text-anchor="end">1e10</text>
</g>
<g font-size="16.7" text-anchor="middle" fill="#000">
<text transform="translate(625,153) rotate(-90)">Log(Population Count + 1)</text>
<text transform="translate(627,451) rotate(-90)">Intensity (nW/cm<tspan dy="-6" font-size="12">2</tspan><tspan dy="6">/sr)</tspan></text>
<text transform="translate(1259,153) rotate(-90)">CO<tspan dy="4" font-size="12">2</tspan><tspan font-size="12" font-style="italic">ff</tspan><tspan dy="-4"> (tonne C/cell/month)</tspan></text>
<text transform="translate(1246,451) rotate(-90)">CO<tspan dy="4" font-size="12">2</tspan><tspan font-size="12" font-style="italic">ff</tspan><tspan dy="-4"> (tonne CO</tspan><tspan dy="4" font-size="12">2</tspan><tspan dy="-4">/cell/month)</tspan></text>
<text transform="translate(1246,749) rotate(-90)">CO<tspan dy="4" font-size="12">2</tspan><tspan font-size="12" font-style="italic">ff</tspan><tspan dy="-4"> (kg CO</tspan><tspan dy="4" font-size="12">2</tspan><tspan dy="-4">/cell/year)</tspan></text>
</g>
</svg>
</body></html>
